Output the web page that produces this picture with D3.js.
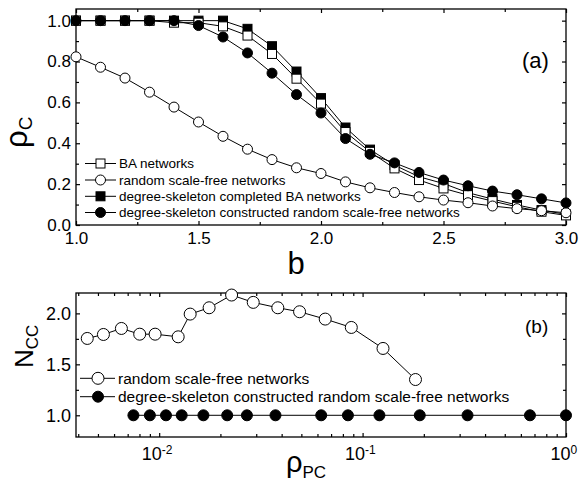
<!DOCTYPE html>
<html>
<head>
<meta charset="utf-8">
<script src="https://cdn.jsdelivr.net/npm/d3@7"></script>
<style>
  body { margin: 0; background: #fff; }
  svg { display: block; font-family: "Liberation Sans", Arial, sans-serif; }
  .frame { fill: none; stroke: #000; stroke-width: 1.3; }
  .line { fill: none; stroke: #000; stroke-width: 1; }
  .axis path { display: none; }
  .axis line { stroke: #000; stroke-width: 1.2; }
</style>
</head>
<body>
<svg id="chart" width="580" height="481"></svg>
<script>
  // ---- panel (a): rho_c vs b ----
  const bValues = [1.0, 1.1, 1.2, 1.3, 1.4, 1.5, 1.6, 1.7, 1.8, 1.9, 2.0,
                   2.1, 2.2, 2.3, 2.4, 2.5, 2.6, 2.7, 2.8, 2.9, 3.0];
  const baNetworks = [1, 1, 1, 1, 0.99, 0.99, 0.972, 0.927, 0.837, 0.716, 0.594,
                      0.455, 0.358, 0.277, 0.22, 0.179, 0.146, 0.117, 0.089, 0.065, 0.047];
  const randomSF = [0.823, 0.772, 0.719, 0.65, 0.577, 0.504, 0.434, 0.371, 0.32, 0.28, 0.252,
                    0.211, 0.182, 0.159, 0.138, 0.122, 0.109, 0.093, 0.08, 0.07, 0.06];
  const completedBA = [1, 1, 1, 1, 1, 1, 1.0, 0.96, 0.875, 0.751, 0.621,
                       0.477, 0.369, 0.293, 0.236, 0.203, 0.158, 0.127, 0.098, 0.073, 0.052];
  const constructedSF = [1, 1, 1, 1, 1, 0.976, 0.92, 0.842, 0.743, 0.638, 0.548,
                         0.423, 0.346, 0.304, 0.257, 0.22, 0.192, 0.166, 0.148, 0.128, 0.108];
  const legendA = ["BA networks", "random scale-free networks",
                   "degree-skeleton completed BA networks",
                   "degree-skeleton constructed random scale-free networks"];

  // ---- panel (b): N_cc vs rho_pc ----
  const pcRandom = [0.00443, 0.00532, 0.00652, 0.00802, 0.00955, 0.0124, 0.0142, 0.0176,
                    0.0227, 0.029, 0.0383, 0.049, 0.0655, 0.088, 0.126, 0.182];
  const nccRandom = [1.754, 1.793, 1.852, 1.796, 1.796, 1.77, 1.993, 2.055,
                     2.18, 2.108, 2.055, 2.016, 1.944, 1.862, 1.656, 1.351];
  const pcConstructed = [0.00747, 0.009, 0.0108, 0.0129, 0.0165, 0.0216, 0.027, 0.0373,
                         0.0626, 0.0847, 0.121, 0.191, 0.328, 0.665, 1.0];
  const nccConstructed = [1, 1, 1, 1, 1, 1, 1, 1, 1, 1, 1, 1, 1, 1, 1];
  const legendB = ["random scale-free networks",
                   "degree-skeleton constructed random scale-free networks"];

  const svg = d3.select("#chart");

  // scales
  const xA = d3.scaleLinear().domain([1, 3]).range([76, 566]);
  const yA = d3.scaleLinear().domain([0, 1.057]).range([225, 9]);
  const xB = d3.scaleLog().domain([0.0039, 1]).range([76, 566]);
  const yB = d3.scaleLinear().domain([0.787, 2.2]).range([437, 293]);

  function frame(x, y) {
    svg.append("rect").attr("class", "frame")
      .attr("x", x.range()[0]).attr("y", y.range()[1])
      .attr("width", x.range()[1] - x.range()[0])
      .attr("height", y.range()[0] - y.range()[1]);
  }

  // inward ticks on all four sides, labels only bottom/left
  function ticks(x, y, xMajor, xMinor, yMajor, yMinor, fs, xFmt, yFmt, xPad) {
    const bottom = y.range()[0], top = y.range()[1];
    const left = x.range()[0], right = x.range()[1];
    const g = svg.append("g").attr("class", "axis");
    g.append("g").attr("transform", `translate(0,${bottom})`)
      .call(d3.axisBottom(x).tickValues(xMinor).tickSize(-3).tickFormat(""));
    g.append("g").attr("transform", `translate(0,${top})`)
      .call(d3.axisTop(x).tickValues(xMinor).tickSize(-3).tickFormat(""));
    g.append("g").attr("transform", `translate(${left},0)`)
      .call(d3.axisLeft(y).tickValues(yMinor).tickSize(-3).tickFormat(""));
    g.append("g").attr("transform", `translate(${right},0)`)
      .call(d3.axisRight(y).tickValues(yMinor).tickSize(-3).tickFormat(""));
    g.append("g").attr("transform", `translate(0,${top})`)
      .call(d3.axisTop(x).tickValues(xMajor).tickSize(-4).tickFormat(""));
    g.append("g").attr("transform", `translate(${right},0)`)
      .call(d3.axisRight(y).tickValues(yMajor).tickSize(-4).tickFormat(""));
    const xb = g.append("g").attr("transform", `translate(0,${bottom})`)
      .call(d3.axisBottom(x).tickValues(xMajor).tickSize(-4).tickPadding(xPad).tickFormat(xFmt));
    const yl = g.append("g").attr("transform", `translate(${left},0)`)
      .call(d3.axisLeft(y).tickValues(yMajor).tickSize(-4).tickPadding(5).tickFormat(yFmt));
    [xb, yl].forEach(s => s.selectAll("text")
      .attr("fill", "#000").style("font-size", fs + "px")
      .style("font-family", "'Liberation Sans', Arial, sans-serif"));
    return xb;
  }

  function series(x, y, xs, ys, shape, filled, size) {
    const pts = xs.map((v, i) => [x(v), y(ys[i])]);
    svg.append("path").attr("class", "line").attr("d", d3.line()(pts));
    marks(pts, shape, filled, size);
  }

  function marks(pts, shape, filled, size) {
    const g = svg.append("g");
    pts.forEach(p => {
      const m = shape === "square"
        ? g.append("rect").attr("x", p[0] - size / 2).attr("y", p[1] - size / 2)
            .attr("width", size).attr("height", size)
        : g.append("circle").attr("cx", p[0]).attr("cy", p[1]).attr("r", size / 2);
      m.attr("fill", filled ? "#000" : "#fff").attr("stroke", "#000").attr("stroke-width", 1);
    });
  }

  function legend(items, x0, x1, xm, ys, fs) {
    items.forEach((it, i) => {
      svg.append("line").attr("x1", x0).attr("x2", x1).attr("y1", ys[i]).attr("y2", ys[i])
        .attr("stroke", "#000").attr("stroke-width", 1);
      marks([[xm, ys[i]]], it.shape, it.filled, it.size);
      svg.append("text").attr("x", x1 + 3).attr("y", ys[i]).attr("dy", "0.35em")
        .style("font-size", fs + "px").text(it.label);
    });
  }

  // ---------- panel (a) ----------
  frame(xA, yA);
  ticks(xA, yA, d3.range(1, 3.01, 0.5), d3.range(1.25, 3, 0.5),
        d3.range(0, 1.01, 0.2), d3.range(0.1, 1.05, 0.2), 17,
        d3.format(".1f"), d3.format(".1f"), 7);

  series(xA, yA, bValues, completedBA, "square", true, 9);
  series(xA, yA, bValues, baNetworks, "square", false, 9);
  series(xA, yA, bValues, randomSF, "circle", false, 10);
  series(xA, yA, bValues, constructedSF, "circle", true, 10);

  legend([
    { label: legendA[0], shape: "square", filled: false, size: 9 },
    { label: legendA[1], shape: "circle", filled: false, size: 10 },
    { label: legendA[2], shape: "square", filled: true, size: 9 },
    { label: legendA[3], shape: "circle", filled: true, size: 10 }
  ], 85, 116, 100.5, [163.5, 180, 196.3, 212.5], 13.5);

  svg.append("text").attr("x", 522).attr("y", 68).style("font-size", "22px").text("(a)");

  // axis titles (a)
  svg.append("text").attr("x", 296).attr("y", 274).attr("text-anchor", "middle")
    .style("font-size", "31px").text("b");
  const ya = svg.append("text").attr("transform", "translate(27,148) rotate(-90)")
    .style("font-size", "31px");
  ya.append("tspan").text("ρ");
  ya.append("tspan").attr("dy", 5).style("font-size", "19px").text("C");

  // ---------- panel (b) ----------
  frame(xB, yB);
  const minorB = [];
  [0.001, 0.01, 0.1].forEach(d => { for (let k = 2; k <= 9; k++) if (k * d >= 0.0039) minorB.push(k * d); });
  const xbAxis = ticks(xB, yB, [0.01, 0.1, 1], minorB,
        [1.0, 1.5, 2.0], [1.25, 1.75], 18, () => "", d3.format(".1f"), 4);
  xbAxis.selectAll(".tick text").each(function (d) {
    const t = d3.select(this).attr("dy", "1.05em").attr("dx", "-0.15em");
    t.append("tspan").text("10");
    t.append("tspan").attr("dy", "-0.5em").style("font-size", "12px").text(Math.round(Math.log10(d)) === 0 ? "0" : Math.round(Math.log10(d)));
  });

  series(xB, yB, pcRandom, nccRandom, "circle", false, 12);
  series(xB, yB, pcConstructed, nccConstructed, "circle", true, 11);

  legend([
    { label: legendB[0], shape: "circle", filled: false, size: 12 },
    { label: legendB[1], shape: "circle", filled: true, size: 11 }
  ], 80, 115, 98, [378.3, 396.7], 15.5);

  svg.append("text").attr("x", 525).attr("y", 333).style("font-size", "19px").text("(b)");

  const xbt = svg.append("text").attr("x", 286).attr("y", 472).style("font-size", "29px");
  xbt.append("tspan").text("ρ");
  xbt.append("tspan").attr("dy", 6).style("font-size", "17px").text("PC");
  const ybt = svg.append("text").attr("transform", "translate(33,368) rotate(-90)")
    .style("font-size", "26px");
  ybt.append("tspan").text("N");
  ybt.append("tspan").attr("dy", 5).style("font-size", "17px").text("CC");
</script>
</body>
</html>
